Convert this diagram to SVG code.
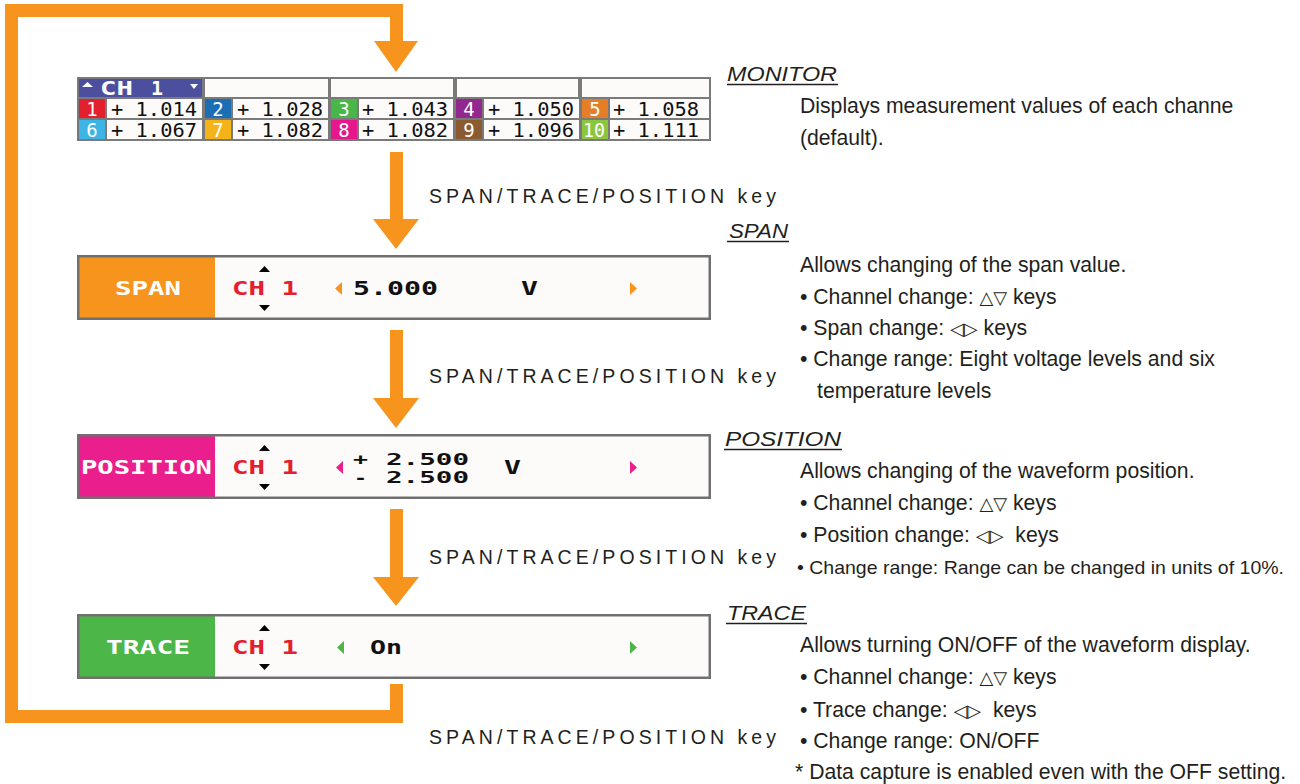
<svg xmlns="http://www.w3.org/2000/svg" width="1300" height="784" viewBox="0 0 1300 784">
<style>
.body{font-family:"Liberation Sans",Arial,sans-serif;font-size:21.2px;fill:#231f20}
.small{font-size:18.5px}
.sym{font-family:"DejaVu Sans",sans-serif;font-size:18px}
.head{font-family:"Liberation Sans",Arial,sans-serif;font-size:21px;font-style:italic;fill:#231f20}
.key{font-family:"Liberation Sans",Arial,sans-serif;font-size:19.5px;fill:#231f20}
.ul{stroke:#231f20;stroke-width:1.3}
.pix{font-family:"DejaVu Sans Mono",monospace;font-weight:bold}
.val{font-family:"DejaVu Sans Mono",monospace;font-size:19px;fill:#111}
.num{font-family:"DejaVu Sans Mono",monospace;font-size:19px;fill:#fff;text-anchor:middle}
.box{fill:#fdfafa}
.frame{fill:none;stroke:#707070;stroke-width:2.5}
.cell{fill:#fdfafa}
.orange{fill:#f7941d}
</style>

<g id="connectors">
  <path d="M396.5 684 V716.5 H11.5 V10.5 H396.5 V42" fill="none" stroke="#f7941d" stroke-width="13" stroke-linejoin="miter"/>
  <polygon class="orange" points="374,41 418,41 396,72"/>
  <rect class="orange" x="390" y="152" width="13" height="68"/>
  <polygon class="orange" points="373,219 419,219 396,249"/>
  <rect class="orange" x="390" y="330" width="13" height="69"/>
  <polygon class="orange" points="373,398 419,398 396,428"/>
  <rect class="orange" x="390" y="509" width="13" height="69"/>
  <polygon class="orange" points="373,577 419,577 396,606"/>
  <text class="key" x="429" y="203" textLength="347" lengthAdjust="spacing">SPAN/TRACE/POSITION key</text>
  <text class="key" x="429" y="383" textLength="347" lengthAdjust="spacing">SPAN/TRACE/POSITION key</text>
  <text class="key" x="429" y="564" textLength="347" lengthAdjust="spacing">SPAN/TRACE/POSITION key</text>
  <text class="key" x="429" y="744" textLength="347" lengthAdjust="spacing">SPAN/TRACE/POSITION key</text>
</g>

<g id="monitor">
  <rect x="77" y="77" width="634" height="64" fill="#7a7a7a"/>
  <rect x="79" y="79" width="123" height="18" fill="#4b4f9e"/>
  <rect class="cell" x="205" y="79" width="123" height="18"/>
  <rect class="cell" x="331" y="79" width="122" height="18"/>
  <rect class="cell" x="457" y="79" width="121" height="18"/>
  <rect class="cell" x="582" y="79" width="127" height="18"/>
  <polygon points="82,87 93,87 87.5,82" fill="#fff"/>
  <polygon points="190,84 198,84 194,89" fill="#fff"/>
  <text class="pix" x="100" y="95" font-size="20" fill="#fff" textLength="33" lengthAdjust="spacingAndGlyphs">CH</text>
  <text class="pix" x="151" y="95" font-size="20" fill="#fff">1</text>
  <rect x="79" y="99" width="26" height="19" fill="#e3202d"/>
  <rect class="cell" x="107" y="99" width="95" height="19"/>
  <rect x="205" y="99" width="26" height="19" fill="#1b6db4"/>
  <rect class="cell" x="233" y="99" width="95" height="19"/>
  <rect x="331" y="99" width="26" height="19" fill="#48b649"/>
  <rect class="cell" x="359" y="99" width="94" height="19"/>
  <rect x="456" y="99" width="26" height="19" fill="#92278f"/>
  <rect class="cell" x="484" y="99" width="95" height="19"/>
  <rect x="582" y="99" width="26" height="19" fill="#e57e27"/>
  <rect class="cell" x="610" y="99" width="99" height="19"/>
  <rect x="79" y="120" width="26" height="19" fill="#3cb4e6"/>
  <rect class="cell" x="107" y="120" width="95" height="19"/>
  <rect x="205" y="120" width="26" height="19" fill="#f5b31a"/>
  <rect class="cell" x="233" y="120" width="95" height="19"/>
  <rect x="331" y="120" width="26" height="19" fill="#e6168c"/>
  <rect class="cell" x="359" y="120" width="94" height="19"/>
  <rect x="456" y="120" width="26" height="19" fill="#8b5a30"/>
  <rect class="cell" x="484" y="120" width="95" height="19"/>
  <rect x="582" y="120" width="26" height="19" fill="#8cc63e"/>
  <rect class="cell" x="610" y="120" width="99" height="19"/>
  <text class="num" x="92" y="116">1</text>
  <text class="num" x="218" y="116">2</text>
  <text class="num" x="344" y="116">3</text>
  <text class="num" x="469" y="116">4</text>
  <text class="num" x="595" y="116">5</text>
  <text class="num" x="92" y="137">6</text>
  <text class="num" x="218" y="137">7</text>
  <text class="num" x="344" y="137">8</text>
  <text class="num" x="469" y="137">9</text>
  <text class="num" x="594" y="137" textLength="22" lengthAdjust="spacingAndGlyphs">10</text>
  <text class="val" x="111" y="116" textLength="86" lengthAdjust="spacingAndGlyphs">+ 1.014</text>
  <text class="val" x="237" y="116" textLength="86" lengthAdjust="spacingAndGlyphs">+ 1.028</text>
  <text class="val" x="362" y="116" textLength="86" lengthAdjust="spacingAndGlyphs">+ 1.043</text>
  <text class="val" x="488" y="116" textLength="86" lengthAdjust="spacingAndGlyphs">+ 1.050</text>
  <text class="val" x="613" y="116" textLength="86" lengthAdjust="spacingAndGlyphs">+ 1.058</text>
  <text class="val" x="111" y="137" textLength="86" lengthAdjust="spacingAndGlyphs">+ 1.067</text>
  <text class="val" x="237" y="137" textLength="86" lengthAdjust="spacingAndGlyphs">+ 1.082</text>
  <text class="val" x="362" y="137" textLength="86" lengthAdjust="spacingAndGlyphs">+ 1.082</text>
  <text class="val" x="488" y="137" textLength="86" lengthAdjust="spacingAndGlyphs">+ 1.096</text>
  <text class="val" x="613" y="137" textLength="86" lengthAdjust="spacingAndGlyphs">+ 1.111</text>
</g>

<g id="span">
  <rect class="box" x="77" y="255" width="634" height="65"/>
  <rect x="77" y="255" width="138" height="65" fill="#f7941d"/>
  <rect class="frame" x="78.25" y="256.25" width="631.5" height="62.5"/>
  <text class="pix" x="115" y="295" font-size="19" fill="#fff" textLength="66" lengthAdjust="spacingAndGlyphs">SPAN</text>
  <text class="pix" x="232" y="295" font-size="19" fill="#e3202d" textLength="66" lengthAdjust="spacingAndGlyphs">CH 1</text>
  <polygon points="259,272 270,272 264.5,266" fill="#000"/>
  <polygon points="259,305 270,305 264.5,311" fill="#000"/>
  <polygon points="342,282 342,295 335,288.5" fill="#f7941d"/>
  <text class="pix" x="353" y="295" font-size="19" fill="#111" textLength="85" lengthAdjust="spacingAndGlyphs">5.000</text>
  <text class="pix" x="521" y="295" font-size="19" fill="#111" textLength="17" lengthAdjust="spacingAndGlyphs">V</text>
  <polygon points="630,282 630,295 637,288.5" fill="#f7941d"/>
</g>

<g id="position">
  <rect class="box" x="77" y="434" width="634" height="65"/>
  <rect x="77" y="434" width="138" height="65" fill="#ea1e8c"/>
  <rect class="frame" x="78.25" y="435.25" width="631.5" height="62.5"/>
  <text class="pix" x="81" y="474" font-size="19" fill="#fff" textLength="131" lengthAdjust="spacingAndGlyphs">POSITION</text>
  <text class="pix" x="232" y="474" font-size="19" fill="#e3202d" textLength="66" lengthAdjust="spacingAndGlyphs">CH 1</text>
  <polygon points="259,451 270,451 264.5,445" fill="#000"/>
  <polygon points="259,484 270,484 264.5,490" fill="#000"/>
  <polygon points="343,461 343,474 336,467.5" fill="#ea1e8c"/>
  <text class="pix" font-size="15" fill="#111"><tspan x="353" y="464.5" textLength="15" lengthAdjust="spacingAndGlyphs">+</tspan><tspan x="354" y="482.5" textLength="13" lengthAdjust="spacingAndGlyphs">-</tspan></text>
  <text class="pix" font-size="15" fill="#111"><tspan x="386" y="464.5" textLength="83" lengthAdjust="spacingAndGlyphs">2.500</tspan><tspan x="386" y="482.5" textLength="83" lengthAdjust="spacingAndGlyphs">2.500</tspan></text>
  <text class="pix" x="504" y="474" font-size="19" fill="#111" textLength="17" lengthAdjust="spacingAndGlyphs">V</text>
  <polygon points="630,461 630,474 637,467.5" fill="#ea1e8c"/>
</g>

<g id="trace">
  <rect class="box" x="77" y="614" width="634" height="65"/>
  <rect x="77" y="614" width="138" height="65" fill="#4cb649"/>
  <rect class="frame" x="78.25" y="615.25" width="631.5" height="62.5"/>
  <text class="pix" x="106" y="654" font-size="19" fill="#fff" textLength="84" lengthAdjust="spacingAndGlyphs">TRACE</text>
  <text class="pix" x="232" y="654" font-size="19" fill="#e3202d" textLength="66" lengthAdjust="spacingAndGlyphs">CH 1</text>
  <polygon points="259,631 270,631 264.5,625" fill="#000"/>
  <polygon points="259,664 270,664 264.5,670" fill="#000"/>
  <polygon points="344,641 344,654 337,647.5" fill="#4cb649"/>
  <text class="pix" x="370" y="654" font-size="19" fill="#111" textLength="32" lengthAdjust="spacingAndGlyphs">On</text>
  <polygon points="630,641 630,654 637,647.5" fill="#4cb649"/>
</g>

<g id="monitor-desc">
  <text class="head" x="727" y="81" textLength="110" lengthAdjust="spacingAndGlyphs">MONITOR</text>
  <line class="ul" x1="727" y1="84.5" x2="838" y2="84.5"/>
  <text class="body" x="800" y="113">Displays measurement values of each channe</text>
  <text class="body" x="800" y="145">(default).</text>
</g>

<g id="span-desc">
  <text class="head" x="729" y="238" textLength="59" lengthAdjust="spacingAndGlyphs">SPAN</text>
  <line class="ul" x1="727" y1="241.5" x2="789" y2="241.5"/>
  <text class="body" x="800" y="272">Allows changing of the span value.</text>
  <text class="body" x="800" y="304">• Channel change: <tspan class="sym">△▽</tspan> keys</text>
  <text class="body" x="800" y="335">• Span change: <tspan class="sym">◁▷</tspan> keys</text>
  <text class="body" x="800" y="366">• Change range: Eight voltage levels and six</text>
  <text class="body" x="817" y="398">temperature levels</text>
</g>

<g id="position-desc">
  <text class="head" x="725" y="446" textLength="116" lengthAdjust="spacingAndGlyphs">POSITION</text>
  <line class="ul" x1="724" y1="449.5" x2="842" y2="449.5"/>
  <text class="body" x="800" y="478">Allows changing of the waveform position.</text>
  <text class="body" x="800" y="510">• Channel change: <tspan class="sym">△▽</tspan> keys</text>
  <text class="body" x="800" y="542">• Position change: <tspan class="sym">◁▷</tspan>&#160; keys</text>
  <text class="body small" x="797" y="574" textLength="487" lengthAdjust="spacingAndGlyphs">• Change range: Range can be changed in units of 10%.</text>
</g>

<g id="trace-desc">
  <text class="head" x="727" y="620" textLength="79" lengthAdjust="spacingAndGlyphs">TRACE</text>
  <line class="ul" x1="726" y1="623.5" x2="807" y2="623.5"/>
  <text class="body" x="800" y="652">Allows turning ON/OFF of the waveform display.</text>
  <text class="body" x="800" y="684">• Channel change: <tspan class="sym">△▽</tspan> keys</text>
  <text class="body" x="800" y="717">• Trace change: <tspan class="sym">◁▷</tspan>&#160; keys</text>
  <text class="body" x="800" y="748">• Change range: ON/OFF</text>
  <text class="body" x="795" y="779">* Data capture is enabled even with the OFF setting.</text>
</g>
</svg>
